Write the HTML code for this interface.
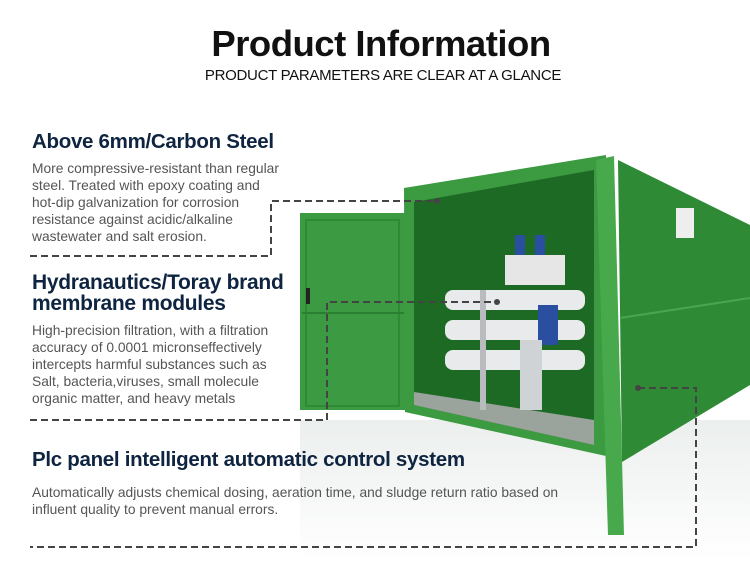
<!DOCTYPE html>
<html><head><meta charset="utf-8"><style>
*{margin:0;padding:0}
body{width:750px;height:585px;background:#fff;position:relative;overflow:hidden;font-family:"Liberation Sans",sans-serif}
h1{position:absolute;left:0;width:762px;top:23px;text-align:center;font-size:36.5px;font-weight:bold;color:#111;letter-spacing:-0.5px}
.sub{position:absolute;left:0;width:766px;top:67px;text-align:center;font-size:15px;color:#111;letter-spacing:-0.3px}
.h{position:absolute;left:32px;font-weight:bold;color:#0e2440;font-size:20.5px;letter-spacing:-0.3px;line-height:21px;white-space:nowrap}
.b{position:absolute;left:32px;font-family:"Liberation Sans Narrow","Liberation Sans",sans-serif;font-size:13.8px;color:#555;line-height:17px;white-space:nowrap}
svg{position:absolute;left:0;top:0}
</style></head><body>
<svg width="750" height="585">
<defs>
<linearGradient id="fl" x1="0" y1="0" x2="0" y2="1"><stop offset="0" stop-color="#e6ebe8"/><stop offset="1" stop-color="#fff"/></linearGradient>
</defs>
<rect x="300" y="420" width="450" height="140" fill="url(#fl)" opacity="0.8"/>
<!-- side -->
<polygon points="618,160 750,225 750,385 622,462" fill="#2f8a36"/>
<line x1="620" y1="318" x2="750" y2="298" stroke="#4aa552" stroke-width="2"/>
<rect x="676" y="208" width="18" height="30" fill="#eee"/>
<!-- front frame -->
<polygon points="404,188 606,155 606,456 405,412" fill="#3c9a40"/>
<!-- interior -->
<polygon points="414,202 594,170 594,445 414,405" fill="#1d6a25"/>
<polygon points="414,392 594,420 594,445 414,405" fill="#9aa39c"/>
<!-- equipment -->
<rect x="505" y="255" width="60" height="30" fill="#e6e6e6"/>
<rect x="515" y="235" width="10" height="20" fill="#2a4fa0"/>
<rect x="535" y="235" width="10" height="20" fill="#2a4fa0"/>
<rect x="445" y="290" width="140" height="20" rx="8" fill="#e8eaec"/>
<rect x="445" y="320" width="140" height="20" rx="8" fill="#e8eaec"/>
<rect x="445" y="350" width="140" height="20" rx="8" fill="#e8eaec"/>
<rect x="538" y="305" width="20" height="40" fill="#2a4fa0"/>
<rect x="520" y="340" width="22" height="70" fill="#cfd3d6"/>
<rect x="480" y="290" width="6" height="120" fill="#b8bcbf"/>
<!-- right door -->
<polygon points="596,160 614,156 624,535 608,535" fill="#48a84c"/>
<!-- left door -->
<rect x="300" y="213" width="105" height="197" fill="#3c9b42"/>
<rect x="306" y="220" width="93" height="186" fill="none" stroke="#2e8a33" stroke-width="2"/>
<line x1="302" y1="313" x2="404" y2="313" stroke="#2a7f30" stroke-width="2"/>
<rect x="306" y="288" width="4" height="16" fill="#222"/>
<!-- dashed leaders -->
<g stroke="#444" stroke-width="2" stroke-dasharray="7,4" fill="none">
<polyline points="30,256 271,256 271,201 437,201"/>
<polyline points="30,420 327,420 327,302 497,302"/>
<polyline points="638,388 696,388 696,547 30,547"/>
</g>
<circle cx="437" cy="201" r="3" fill="#444"/>
<circle cx="497" cy="302" r="3" fill="#444"/>
<circle cx="638" cy="388" r="3" fill="#444"/>
</svg>
<h1>Product Information</h1>
<div class="sub">PRODUCT PARAMETERS ARE CLEAR AT A GLANCE</div>
<div class="h" style="top:131px">Above 6mm/Carbon Steel</div>
<div class="b" style="top:160px">More compressive-resistant than regular<br>steel. Treated with epoxy coating and<br>hot-dip galvanization for corrosion<br>resistance against acidic/alkaline<br>wastewater and salt erosion.</div>
<div class="h" style="top:272px;font-size:21px">Hydranautics/Toray brand<br>membrane modules</div>
<div class="b" style="top:322px">High-precision filtration, with a filtration<br>accuracy of 0.0001 micronseffectively<br>intercepts harmful substances such as<br>Salt, bacteria,viruses, small molecule<br>organic matter, and heavy metals</div>
<div class="h" style="top:449px">Plc panel intelligent automatic control system</div>
<div class="b" style="top:484px">Automatically adjusts chemical dosing, aeration time, and sludge return ratio based on<br>influent quality to prevent manual errors.</div>
</body></html>
